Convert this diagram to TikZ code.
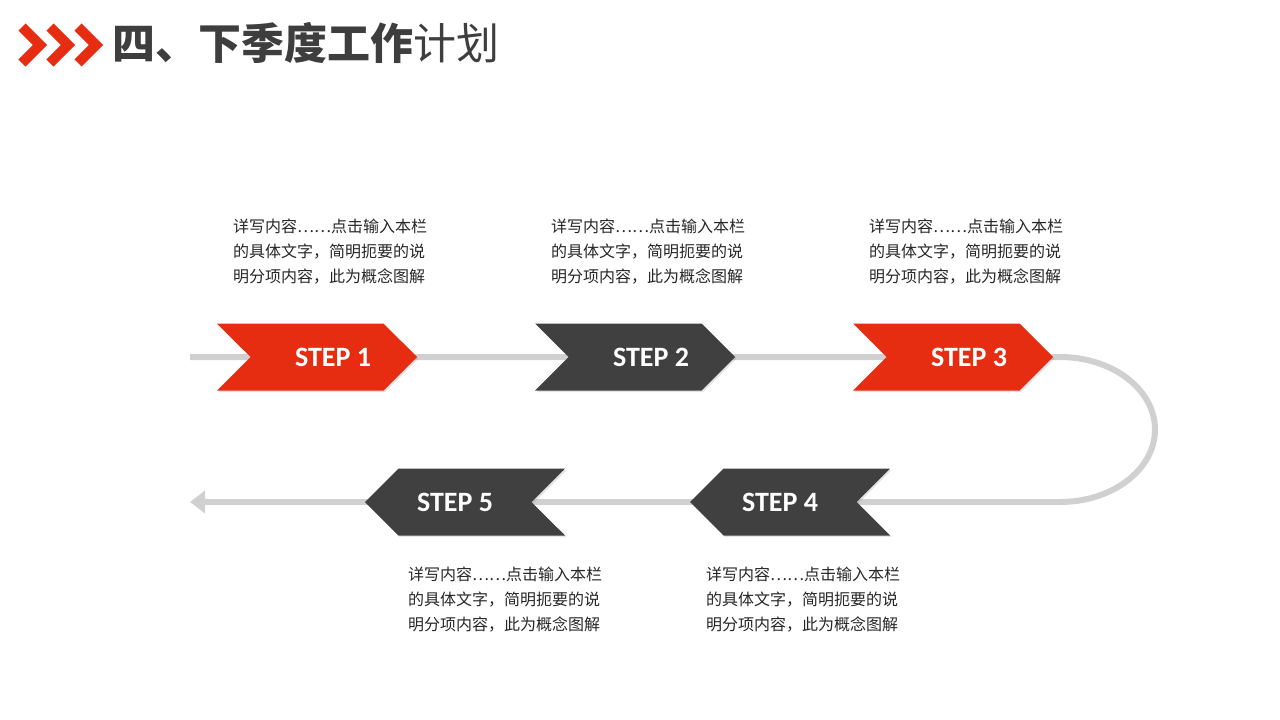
\documentclass[tikz,border=0pt]{standalone}
\usepackage{fontspec}
\newfontfamily\cjk{Noto Sans CJK SC}
\newfontfamily\stepfont{Carlito}
\usepackage{tikz}
\usetikzlibrary{arrows.meta,shapes.symbols,positioning,backgrounds,shadows}
\definecolor{stepred}  {RGB}{230,45,18}
\definecolor{stepdark} {RGB}{64,64,64}
\definecolor{trackgray}{RGB}{208,208,208}
\definecolor{titlegray}{RGB}{62,62,62}
\definecolor{bodygray} {RGB}{38,38,38}
\tikzset{
  stepbase/.style={signal, signal pointer angle=90,
                   minimum width=200pt, minimum height=67pt,
                   inner sep=0pt, draw=none,
                   drop shadow={shadow xshift=1.5pt, shadow yshift=-1.5pt,
                                opacity=0.22}},
  steptext/.style={text=white, inner sep=0pt,
                   font=\stepfont\bfseries\fontsize{28}{30}\selectfont},
  stepR/.style   ={stepbase, signal to=east, signal from=west,
                   label={[steptext,xshift=16pt]center:#1}},
  stepL/.style   ={stepbase, signal to=west, signal from=east,
                   label={[steptext,xshift=-10pt]center:#1}},
  redstep/.style ={stepR=#1, fill=stepred},
  darkstepR/.style={stepR=#1, fill=stepdark},
  darkstepL/.style={stepL=#1, fill=stepdark},
  desc/.style    ={font=\cjk\fontsize{16}{25}\selectfont, text=bodygray,
                   align=left, anchor=north west, inner sep=0pt},
  track/.style   ={draw=trackgray, line width=6pt},
  %% header
  chev/.style    ={draw=stepred, line width=10pt, miter limit=4},
  heading/.style ={font=\cjk\fontsize{43}{46}\selectfont, text=titlegray,
                   anchor=west, inner sep=0pt},
}

\begin{document}
\begin{tikzpicture}[x=1pt,y=-1pt]
  \useasboundingbox (0,0) rectangle (1280,720);
  %% header
  \foreach \cx in {40,68,96}
    \draw[chev] (\cx-18,27) -- (\cx,45) -- (\cx-18,63);
  \node[heading] (title) at (112,43) {\bfseries 四、下季度工作\mdseries 计划};

  %% steps
  \node[redstep=STEP 1]   (s1) at (317,357) {};
  \node[darkstepR=STEP 2] (s2) at (635,357) {};
  \node[redstep=STEP 3]   (s3) at (953,357) {};
  \node[darkstepL=STEP 4] (s4) at (790,502) {};
  \node[darkstepL=STEP 5] (s5) at (465,502) {};

  %% descriptions
  \node[desc] (d1) at (233,219) {详写内容……点击输入本栏\\的具体文字，简明扼要的说\\明分项内容，此为概念图解};
  \node[desc] (d2) at (551,219) {详写内容……点击输入本栏\\的具体文字，简明扼要的说\\明分项内容，此为概念图解};
  \node[desc] (d3) at (869,219) {详写内容……点击输入本栏\\的具体文字，简明扼要的说\\明分项内容，此为概念图解};
  \node[desc] (d5) at (408,567) {详写内容……点击输入本栏\\的具体文字，简明扼要的说\\明分项内容，此为概念图解};
  \node[desc] (d4) at (706,567) {详写内容……点击输入本栏\\的具体文字，简明扼要的说\\明分项内容，此为概念图解};

  %% track behind the steps
  \coordinate (tstart) at (190,357);
  \coordinate (tturn)  at (1060,357);
  \coordinate (tback)  at (1060,502);
  \coordinate (tend)   at (190,502);
  \begin{scope}[on background layer]
    \draw[track] (tstart) -- (tturn)
      arc[start angle=90, end angle=-90, x radius=95pt, y radius=72.5pt];
    \draw[track, -{Triangle[length=15pt,width=22pt]}] (tback) -- (tend);
  \end{scope}
\end{tikzpicture}
\end{document}
